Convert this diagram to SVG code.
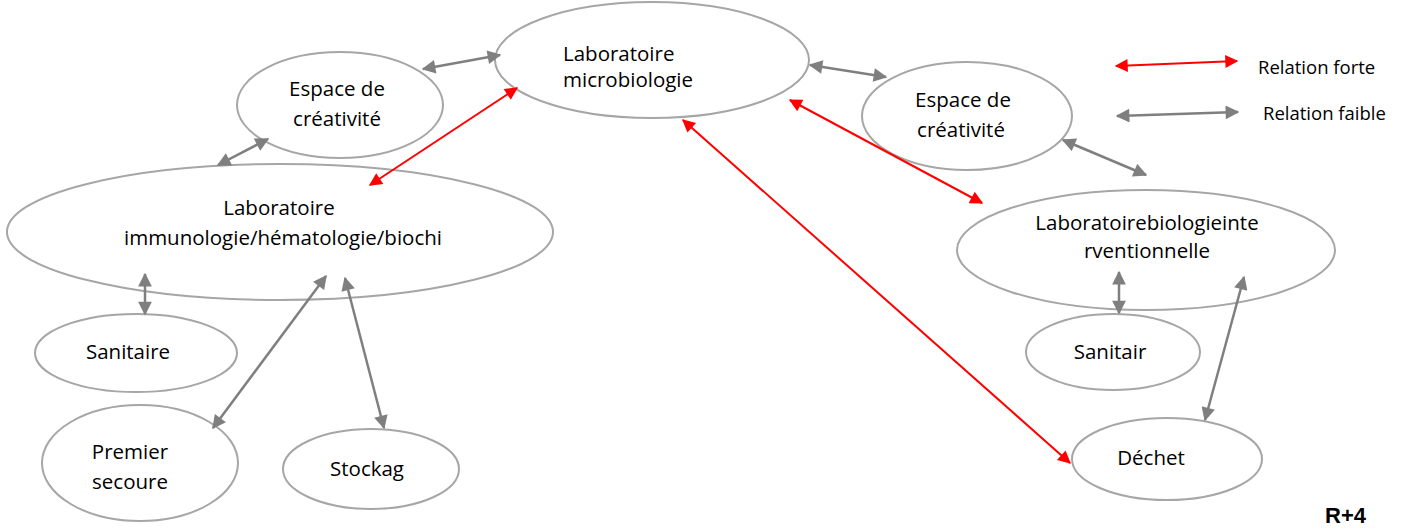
<svg xmlns="http://www.w3.org/2000/svg" width="1407" height="532" viewBox="0 0 1407 532">
<defs>
<marker id="ag" viewBox="0 0 10 10" refX="9" refY="5" markerWidth="6" markerHeight="5.5" orient="auto-start-reverse" markerUnits="strokeWidth"><path d="M0,0 L10,5 L0,10 z" fill="#7f7f7f"/></marker>
<marker id="ar" viewBox="0 0 10 10" refX="9" refY="5" markerWidth="8" markerHeight="6.5" orient="auto-start-reverse" markerUnits="strokeWidth"><path d="M0,0 L10,5 L0,10 z" fill="#ff0000"/></marker>
</defs>
<style>
.n ellipse{fill:#fff;stroke:#a6a6a6;stroke-width:2}
text{font-family:"Open Sans","Noto Sans",sans-serif;font-size:20.5px;fill:#000}
.c{text-anchor:middle}
.g{stroke:#7f7f7f;stroke-width:2.5;fill:none;marker-start:url(#ag);marker-end:url(#ag)}
.r{stroke:#ff0000;stroke-width:2;fill:none;marker-start:url(#ar);marker-end:url(#ar)}
.lg{font-size:18.5px}
</style>
<rect width="1407" height="532" fill="#fff"/>
<g id="n-micro" class="n"><ellipse cx="652" cy="60" rx="157" ry="58"/><text x="563" y="61">Laboratoire</text><text x="563" y="87">microbiologie</text></g>
<g id="n-espace-l" class="n"><ellipse cx="340" cy="105" rx="103" ry="53"/><text class="c" x="337" y="96">Espace de</text><text class="c" x="337" y="126">créativité</text></g>
<g id="n-immuno" class="n"><ellipse cx="280" cy="232" rx="273" ry="68"/><text class="c" x="279" y="215">Laboratoire</text><text class="c" x="283" y="245">immunologie/hématologie/biochi</text></g>
<g id="n-sanitaire" class="n"><ellipse cx="136" cy="353" rx="101" ry="39"/><text class="c" x="128" y="359">Sanitaire</text></g>
<g id="n-premier" class="n"><ellipse cx="140" cy="463" rx="98" ry="58"/><text class="c" x="130" y="459">Premier</text><text class="c" x="130" y="489">secoure</text></g>
<g id="n-stockag" class="n"><ellipse cx="371" cy="469" rx="88" ry="40"/><text class="c" x="367" y="476">Stockag</text></g>
<g id="n-espace-r" class="n"><ellipse cx="967" cy="116" rx="105" ry="54"/><text class="c" x="963" y="107">Espace de</text><text class="c" x="961" y="137">créativité</text></g>
<g id="n-interv" class="n"><ellipse cx="1146" cy="250" rx="189" ry="60"/><text class="c" x="1147" y="230">Laboratoirebiologieinte</text><text class="c" x="1147" y="258">rventionnelle</text></g>
<g id="n-sanitair" class="n"><ellipse cx="1113" cy="352" rx="87" ry="38"/><text class="c" x="1110" y="359">Sanitair</text></g>
<g id="n-dechet" class="n"><ellipse cx="1167" cy="459" rx="95" ry="41"/><text class="c" x="1151" y="465">Déchet</text></g>
<g id="connectors">
<line class="g" x1="423" y1="69" x2="500" y2="55"/>
<line class="g" x1="218" y1="165" x2="268" y2="139"/>
<line class="r" x1="370" y1="185" x2="517" y2="88"/>
<line class="g" x1="810" y1="65" x2="886" y2="77"/>
<line class="r" x1="790" y1="100" x2="982" y2="203"/>
<line class="r" x1="683" y1="120" x2="1070" y2="463"/>
<line class="g" x1="1063" y1="140" x2="1146" y2="175"/>
<line class="g" x1="145" y1="274" x2="145" y2="314"/>
<line class="g" x1="326" y1="276" x2="213" y2="428"/>
<line class="g" x1="345" y1="278" x2="384" y2="428"/>
<line class="g" x1="1119" y1="272" x2="1119" y2="313"/>
<line class="g" x1="1244" y1="277" x2="1205" y2="420"/>
<line class="r" x1="1116" y1="66" x2="1237" y2="61"/>
<line class="g" x1="1117" y1="116" x2="1238" y2="112"/>
</g>
<text class="lg" x="1258" y="74">Relation forte</text>
<text class="lg" x="1263" y="120">Relation faible</text>
<text x="1325" y="523" style="font-family:'Liberation Sans',Arial,sans-serif;font-weight:bold;font-size:22px">R+4</text>
</svg>
